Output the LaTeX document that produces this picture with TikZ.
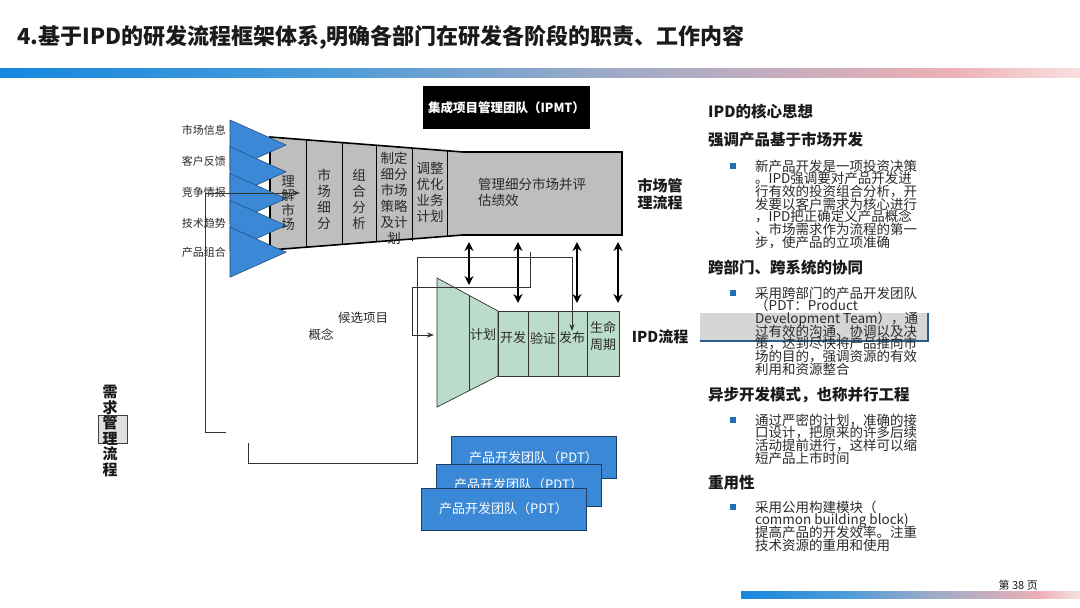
\documentclass[tikz,border=0pt]{standalone}
\usepackage{fontspec}
\setmainfont{Noto Sans CJK SC}
\usetikzlibrary{arrows.meta}
\definecolor{titlec}{HTML}{1A1A1A}
\definecolor{tri}{HTML}{3A88D6}
\definecolor{triline}{HTML}{24507F}
\definecolor{funnel}{HTML}{BEBEBE}
\definecolor{ipdg}{HTML}{BBDCCB}
\definecolor{pdt}{HTML}{3A88D6}
\definecolor{pdtline}{HTML}{1E3F66}
\definecolor{bulletc}{HTML}{1F6FB0}
\definecolor{bodyc}{HTML}{2A2A2A}
\definecolor{graybox}{HTML}{D6D6D6}
\definecolor{blueline}{HTML}{2A5E8E}
\definecolor{gA}{HTML}{1688E0}
\definecolor{gB}{HTML}{4A9BD9}
\definecolor{gC}{HTML}{9AAAC8}
\definecolor{gD}{HTML}{EDB0B5}
\definecolor{gE}{HTML}{F7E0E0}
\pgfdeclarehorizontalshading{gbar}{100bp}{color(0bp)=(gA); color(25bp)=(gA); color(40bp)=(gB); color(52.5bp)=(gC); color(69bp)=(gD); color(75bp)=(gE); color(100bp)=(gE)}
\newcommand\tightlines{\lineskiplimit=-20pt\lineskip=0pt}
\tikzset{
  lbl/.style={font=\fontsize{11}{12}\selectfont, text=bodyc, inner sep=0},
  vtext/.style={align=center, font=\fontsize{13.5}{16}\selectfont\tightlines, text=bodyc, inner sep=0},
  conn/.style={draw=black!80, line width=0.8},
  tip/.style={-{Stealth[length=7pt,width=5pt]}},
  dbl/.style={line width=2.8, {Stealth[length=9pt,width=9pt]}-{Stealth[length=9pt,width=9pt]}},
  ipdbox/.style={fill=ipdg, draw=black!80, line width=0.7},
  pdtbox/.style={fill=pdt, draw=pdtline, line width=0.8, minimum width=165, minimum height=42, text=white, font=\fontsize{13}{14}\selectfont, inner sep=0},
  head/.style={anchor=west, font=\fontsize{15.5}{17}\selectfont\bfseries, text=titlec, inner sep=0},
  body/.style={anchor=north west, align=left, font=\fontsize{13.5}{12.7}\selectfont\tightlines, text=bodyc, inner sep=0},
  bul/.style={fill=bulletc, minimum size=6, inner sep=0},
  big/.style={font=\fontsize{15}{17}\selectfont\bfseries\tightlines, align=center, text=titlec, inner sep=0}
}
\begin{document}
\begin{tikzpicture}[x=1pt,y=-1pt]
\useasboundingbox (0,0) rectangle (1080,608);
\fill[white] (0,0) rectangle (1080,608);

% title and bars
\node[anchor=west, font=\fontsize{22}{24}\selectfont\bfseries, text=titlec, inner sep=0] (title) at (17,37) {4.基于IPD的研发流程框架体系,明确各部门在研发各阶段的职责、工作内容};
\shade[shading=gbar] (0,68) rectangle (1080,77);
\shade[shading=gbar] (741,591) rectangle (1080,598);
\node[anchor=east, font=\fontsize{11}{12}\selectfont, text=titlec, inner sep=0] (page) at (1038,585) {第 38 页};

% IPMT
\node[fill=black, minimum width=167, minimum height=43, text=white, font=\fontsize{12.5}{14}\selectfont\bfseries, inner sep=0] (ipmt) at (506.5,107.5) {集成项目管理团队（IPMT）};

% market funnel
\filldraw[fill=funnel, draw=black, line width=1.6] (270,137) -- (463,152) -- (622,152) -- (622,235) -- (463,235) -- (270,250) -- cycle;
\foreach \x/\a/\b in {306/139.8/247.2, 342/142.6/244.4, 376/145.2/241.8, 412/148/241, 447/150.8/236.2}
  \draw[line width=0.7] (\x,\a) -- (\x,\b);

% input triangles
\foreach \i in {0,...,4} {
  \pgfmathsetmacro\t{120+26.8*\i}
  \filldraw[fill=tri, draw=triline, line width=0.6] (230,\t) -- (286,\t+25) -- (230,\t+50) -- cycle;
}
\node[lbl, anchor=east] (in1) at (226,130) {市场信息};
\node[lbl, anchor=east] (in2) at (226,161) {客户反馈};
\node[lbl, anchor=east] (in3) at (226,192) {竞争情报};
\node[lbl, anchor=east] (in4) at (226,223) {技术趋势};
\node[lbl, anchor=east] (in5) at (226,252) {产品组合};

% funnel column texts
\node[vtext, font=\fontsize{13.5}{14.5}\selectfont\tightlines] (c1) at (288,203) {理\\解\\市\\场};
\node[vtext] (c2) at (324,199) {市\\场\\细\\分};
\node[vtext] (c3) at (359,199) {组\\合\\分\\析};
\node[vtext] (c4) at (394,198) {制定\\细分\\市场\\策略\\及计\\划};
\node[vtext] (c5) at (430,192) {调整\\优化\\业务\\计划};
\node[anchor=north west, align=left, font=\fontsize{13.5}{15.5}\selectfont\tightlines, text=bodyc, inner sep=0] (c6) at (478,178) {管理细分市场并评\\估绩效};
\node[big] (mkt) at (660,194) {市场管\\理流程};

% IPD process
\filldraw[ipdbox] (437,278) -- (498,311) -- (498,376) -- (437,407) -- cycle;
\filldraw[ipdbox] (498,311) rectangle (619,376);
\draw[draw=black!80, line width=0.7] (469,295.3) -- (469,390.7);
\foreach \x in {528,558,587} \draw[draw=black!80, line width=0.7] (\x,311) -- (\x,376);
\node[vtext, font=\fontsize{13}{16}\selectfont] (p1) at (483,335) {计划};
\node[vtext, font=\fontsize{13}{16}\selectfont] (p2) at (513,338) {开发};
\node[vtext, font=\fontsize{13}{16}\selectfont] (p3) at (543,338) {验证};
\node[vtext, font=\fontsize{13}{16}\selectfont] (p4) at (572,338) {发布};
\node[vtext, font=\fontsize{13}{17}\selectfont\tightlines] (p5) at (603,336) {生命\\周期};
\node[big] (ipd) at (660,337) {IPD流程};

% double arrows between market flow and IPD flow
\foreach \x/\b in {469/285, 518/303, 577/303, 618/303}
  \draw[dbl] (\x,242) -- (\x,\b);

% candidate / concept
\node[lbl, font=\fontsize{12.5}{14}\selectfont] (cand) at (363,318) {候选项目};
\node[lbl, font=\fontsize{12.5}{14}\selectfont] (conc) at (321,335) {概念};

% requirement management
\filldraw[fill=black!12, draw=black!75, line width=0.7] (98,415) rectangle (127,443);
\node[vtext, font=\fontsize{15}{15.6}\selectfont\bfseries\tightlines, text=titlec] (req) at (110,431) {需\\求\\管\\理\\流\\程};

% connectors
\coordinate (r1) at (226,432);
\coordinate (r1a) at (205,432);
\coordinate (r1b) at (205,193);
\coordinate (r1e) at (300,193);
\draw[conn, tip] (r1) -- (r1a) -- (r1b) -- (r1e);
\coordinate (r2) at (248,443);
\coordinate (r2a) at (248,463);
\coordinate (r2b) at (417,463);
\coordinate (r2c) at (417,257);
\coordinate (r2d) at (572,257);
\coordinate (r2e) at (572,331);
\draw[conn, tip] (r2) -- (r2a) -- (r2b) -- (r2c) -- (r2d) -- (r2e);
\coordinate (r3) at (530,252);
\coordinate (r3a) at (530,287);
\coordinate (r3b) at (412,287);
\coordinate (r3c) at (412,335);
\coordinate (r3e) at (434,335);
\draw[conn, tip] (r3) -- (r3a) -- (r3b) -- (r3c) -- (r3e);

% PDT boxes
\node[pdtbox] (pdtA) at (533.5,457.5) {产品开发团队（PDT）};
\node[pdtbox] (pdtB) at (518.5,485) {产品开发团队（PDT）};
\node[pdtbox] (pdtC) at (503.5,509) {产品开发团队（PDT）};

% right panel
\fill[graybox] (700,313) rectangle (928,341);
\draw[blueline, line width=1.2] (700,341) -- (928,341) -- (928,313);

\node[head] (h0) at (708,112) {IPD的核心思想};
\node[head] (h1) at (708,140) {强调产品基于市场开发};
\node[bul] (b1) at (733,166) {};
\node[body] (t1) at (755,159.5) {新产品开发是一项投资决策\\。IPD强调要对产品开发进\\行有效的投资组合分析，开\\发要以客户需求为核心进行\\，IPD把正确定义产品概念\\、市场需求作为流程的第一\\步，使产品的立项准确};

\node[head] (h2) at (708,268) {跨部门、跨系统的协同};
\node[bul] (b2) at (733,293) {};
\node[body] (t2) at (755,286.5) {采用跨部门的产品开发团队\\（PDT：Product\\Development Team），通\\过有效的沟通、协调以及决\\策，达到尽快将产品推向市\\场的目的，强调资源的有效\\利用和资源整合};

\node[head] (h3) at (708,395) {异步开发模式，也称并行工程};
\node[bul] (b3) at (733,420) {};
\node[body] (t3) at (755,413.5) {通过严密的计划，准确的接\\口设计，把原来的许多后续\\活动提前进行，这样可以缩\\短产品上市时间};

\node[head] (h4) at (708,483) {重用性};
\node[bul] (b4) at (733,507) {};
\node[body] (t4) at (755,500.5) {采用公用构建模块（\\common building block)\\提高产品的开发效率。注重\\技术资源的重用和使用};
\end{tikzpicture}
\end{document}
